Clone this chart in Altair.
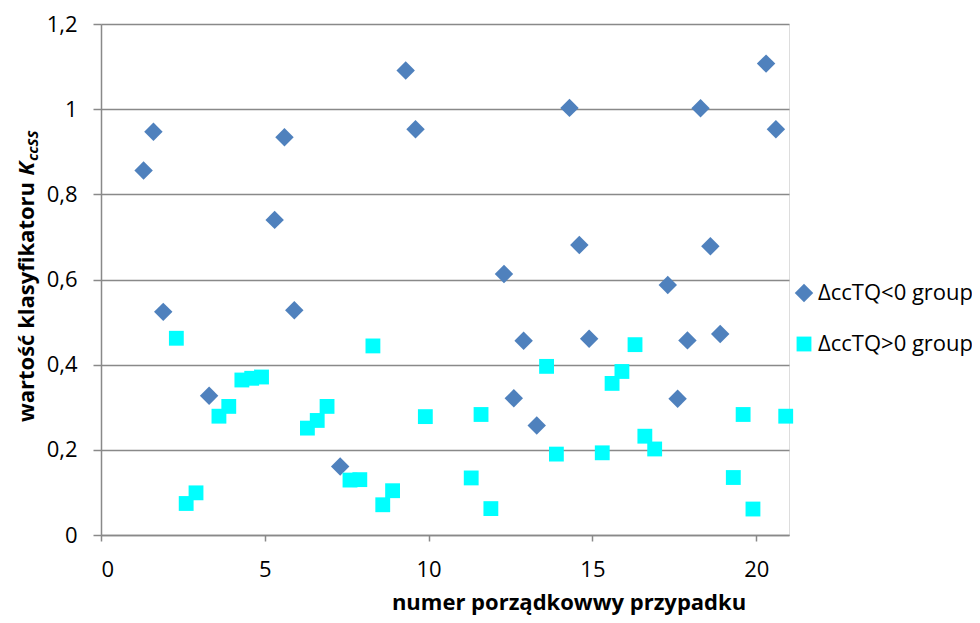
import altair as alt
import pandas as pd

# ΔccTQ<0 group (diamonds)
neg_x = [1.3, 1.6, 1.9, 3.3, 5.3, 5.6, 5.9, 7.3, 9.3, 9.6, 12.3, 12.6, 12.9, 13.3,
         14.3, 14.6, 14.9, 17.3, 17.6, 17.9, 18.3, 18.6, 18.9, 20.3, 20.6]
neg_y = [0.856, 0.947, 0.524, 0.327, 0.740, 0.934, 0.528, 0.161, 1.091, 0.953, 0.613,
         0.321, 0.456, 0.257, 1.003, 0.681, 0.461, 0.587, 0.320, 0.457, 1.002, 0.678,
         0.472, 1.107, 0.953]

# ΔccTQ>0 group (squares)
pos_x = [2.3, 2.6, 2.9, 3.6, 3.9, 4.3, 4.6, 4.9, 6.3, 6.6, 6.9, 7.6, 7.9, 8.3, 8.6,
         8.9, 9.9, 11.3, 11.6, 11.9, 13.6, 13.9, 15.3, 15.6, 15.9, 16.3, 16.6, 16.9,
         19.3, 19.6, 19.9, 20.9]
pos_y = [0.462, 0.074, 0.099, 0.279, 0.302, 0.364, 0.368, 0.371, 0.251, 0.269, 0.302,
         0.129, 0.130, 0.444, 0.071, 0.104, 0.278, 0.134, 0.283, 0.062, 0.396, 0.190,
         0.193, 0.356, 0.384, 0.447, 0.232, 0.202, 0.135, 0.283, 0.061, 0.279]

groups = ["ΔccTQ<0 group", "ΔccTQ>0 group"]
x_ticks = [0, 5, 10, 15, 20]
y_ticks = [0, 0.2, 0.4, 0.6, 0.8, 1.0, 1.2]

df = pd.DataFrame({
    "x": neg_x + pos_x,
    "y": neg_y + pos_y,
    "g": [groups[0]] * len(neg_x) + [groups[1]] * len(pos_x),
})

FONT = "Open Sans"
GRID = "#898989"

points = alt.Chart(df).mark_point(filled=True, opacity=1, strokeWidth=0).encode(
    x=alt.X("x:Q", scale=alt.Scale(domain=[0, 21], nice=False, zero=False),
            axis=alt.Axis(values=x_ticks, grid=False, title=None, tickSize=6,
                          tickColor=GRID, tickWidth=1.5, domainColor=GRID, domainWidth=1.5,
                          labelFont=FONT, labelFontSize=22, labelColor="#000000",
                          labelPadding=18)),
    y=alt.Y("y:Q", scale=alt.Scale(domain=[0, 1.2], nice=False),
            axis=alt.Axis(values=y_ticks, grid=True, gridColor=GRID, gridWidth=1.5,
                          title=None, tickSize=8, tickColor=GRID, tickWidth=1.5,
                          domainColor=GRID, domainWidth=1.5,
                          labelFont=FONT, labelFontSize=22, labelColor="#000000",
                          labelPadding=16,
                          labelExpr="replace(format(datum.value, '.1~f'), '.', ',')")),
    color=alt.Color("g:N", scale=alt.Scale(domain=groups, range=["#4F81BD", "#00FFFF"]),
                    legend=alt.Legend(title=None, orient="none", legendX=692, legendY=258,
                                      labelFont=FONT, labelFontSize=22, labelColor="#000000",
                                      symbolSize=220, rowPadding=29, labelOffset=3,
                                      symbolStrokeWidth=0)),
    shape=alt.Shape("g:N", scale=alt.Scale(domain=groups, range=["diamond", "square"])),
    size=alt.Size("g:N", scale=alt.Scale(domain=groups, range=[340, 220]), legend=None),
    order=alt.Order("g:N"),
)

xtitle = alt.Chart(pd.DataFrame({"a": [0]})).mark_text(
    text="numer porządkowwy przypadku", font=FONT, fontSize=22, fontWeight="bold",
    align="center", baseline="middle", color="#000000"
).encode(x=alt.value(468), y=alt.value(579))

ytitle_main = alt.Chart(pd.DataFrame({"a": [0]})).mark_text(
    text="wartość klasyfikatoru", font=FONT, fontSize=22, fontWeight="bold",
    align="right", baseline="alphabetic", angle=270, color="#000000"
).encode(x=alt.value(-67), y=alt.value(158))

ytitle_k = alt.Chart(pd.DataFrame({"a": [0]})).mark_text(
    text="K", font=FONT, fontSize=22, fontWeight="bold", fontStyle="italic",
    align="right", baseline="alphabetic", angle=270, color="#000000"
).encode(x=alt.value(-67), y=alt.value(138))

ytitle_sub = alt.Chart(pd.DataFrame({"a": [0]})).mark_text(
    text="ccSS", font=FONT, fontSize=15, fontWeight="bold", fontStyle="italic",
    align="left", baseline="alphabetic", angle=270, color="#000000"
).encode(x=alt.value(-63), y=alt.value(137))

chart = alt.layer(points, xtitle, ytitle_main, ytitle_k, ytitle_sub).properties(
    width=688, height=511,
    autosize=alt.AutoSizeParams(type="none"),
    padding={"left": 93, "top": 16, "right": 183, "bottom": 80},
).configure_view(stroke=None).configure(background="#ffffff")

chart.save("out.html", embed_options={"renderer": "svg", "actions": False})
